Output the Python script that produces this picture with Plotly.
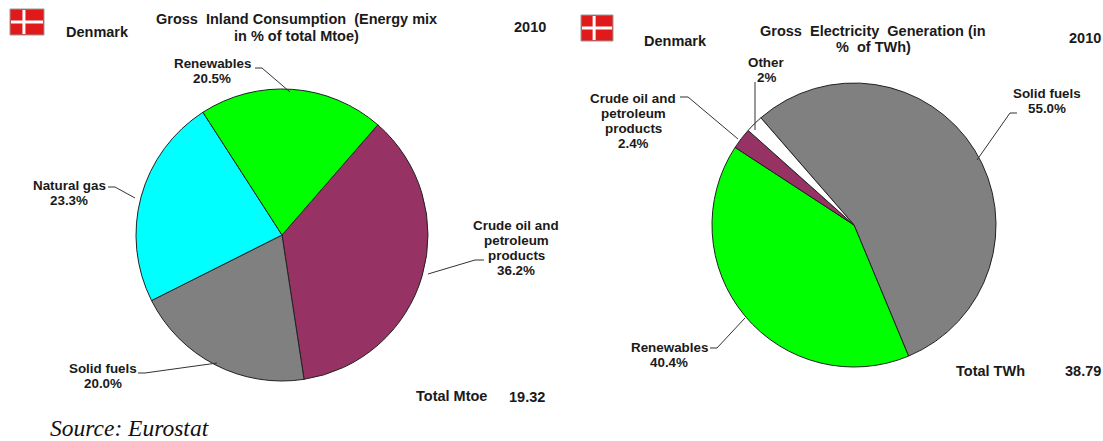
import plotly.graph_objects as go

W, H = 1103, 441

left_labels = ["Crude oil and petroleum products", "Solid fuels", "Natural gas", "Renewables"]
left_values = [36.2, 20.0, 23.3, 20.5]
left_colors = ["#963264", "#808080", "#00FFFF", "#00FF00"]

right_labels = ["Solid fuels", "Renewables", "Crude oil and petroleum products", "Other"]
right_values = [55.0, 40.4, 2.4, 2.0]
right_colors = ["#808080", "#00FF00", "#963264", "#FFFFFF"]


def px(x):
    return x / W


def py(y):
    return 1 - y / H


def dom(cx, cy, r):
    return dict(x=[px(cx - r), px(cx + r)], y=[py(cy + r), py(cy - r)])


def pie(labels, values, colors, rotation, domain):
    return go.Pie(labels=labels, values=values, sort=False, direction="clockwise",
                  rotation=rotation, domain=domain, textinfo="none", hoverinfo="label+percent",
                  showlegend=False,
                  marker=dict(colors=colors, line=dict(color="#222222", width=1)))


fig = go.Figure()
fig.add_trace(pie(left_labels, left_values, left_colors, 41, dom(282, 235, 146)))
fig.add_trace(pie(right_labels, right_values, right_colors, 319, dom(854, 225, 142)))

BOLD = dict(family="Liberation Sans", size=13.4, color="#1a1a1a")
HEAD = dict(family="Liberation Sans", size=14.5, color="#1a1a1a")
annotations = []


def text(x, y, lines, font=BOLD, step=15):
    """Centre a block of bold lines on (x, y), one annotation per line for tight leading."""
    top = y - step * (len(lines) - 1) / 2
    for i, s in enumerate(lines):
        annotations.append(dict(x=px(x), y=py(top + i * step), xref="paper", yref="paper",
                                text=f"<b>{s}</b>", showarrow=False, font=font,
                                xanchor="center", yanchor="middle", borderpad=0, borderwidth=0))


text(97, 32, ["Denmark"], font=HEAD)
text(296, 27, ["Gross&nbsp;&nbsp;Inland Consumption&nbsp;&nbsp;(Energy mix", "in % of total Mtoe)"], font=HEAD, step=17)
text(530, 27, ["2010"], font=HEAD)
text(212, 71, ["Renewables", "20.5%"])
text(69, 193, ["Natural gas", "23.3%"])
text(516, 248, ["Crude oil and", "petroleum", "products", "36.2%"])
text(103, 376, ["Solid fuels", "20.0%"])
text(451, 396, ["Total Mtoe"], font=HEAD)
text(527, 397, ["19.32"], font=HEAD)
annotations.append(dict(x=px(48), y=py(428), xref="paper", yref="paper", text="<i>Source: Eurostat</i>",
                        showarrow=False, xanchor="left", yanchor="middle",
                        font=dict(family="Liberation Serif", size=23.5, color="#111111")))

text(675, 41, ["Denmark"], font=HEAD)
text(873, 39, ["Gross&nbsp;&nbsp;Electricity&nbsp;&nbsp;Generation (in", "%&nbsp;&nbsp;of TWh)"], font=HEAD, step=16)
text(1085, 38, ["2010"], font=HEAD)
text(766, 70, ["Other", "2%"])
text(633, 121, ["Crude oil and", "petroleum", "products", "2.4%"])
text(1047, 101, ["Solid fuels", "55.0%"])
text(669, 355, ["Renewables", "40.4%"])
text(990, 371, ["Total TWh"], font=HEAD)
text(1083, 371, ["38.79"], font=HEAD)

shapes = []


def path(points):
    d = "M " + " L ".join(f"{px(x):.5f},{py(y):.5f}" for x, y in points)
    shapes.append(dict(type="path", path=d, xref="paper", yref="paper",
                       line=dict(color="#333333", width=1)))


path([(255, 68), (262, 68), (290, 92)])
path([(108, 187), (115, 187), (135, 198)])
path([(428, 274), (475, 260), (484, 260)])
path([(138, 373), (145, 373), (217, 363)])
path([(680, 97), (688, 97), (738, 139)])
path([(755, 82), (755, 130)])
path([(1017, 113), (1010, 113), (977, 160)])
path([(710, 348), (717, 348), (745, 318)])


def flag(x0, y0, x1, y1):
    def rect(a, b, c, d, color, line=None):
        shapes.append(dict(type="rect", xref="paper", yref="paper", x0=px(a), x1=px(c), y0=py(b), y1=py(d),
                           fillcolor=color, line=line or dict(width=0)))
    rect(x0, y0, x1, y1, "#E01A1A", dict(color="#999999", width=1))
    h = (y0 + y1) / 2
    v = x0 + (x1 - x0) * 0.41
    rect(x0 + 1, h - 1.5, x1 - 1, h + 1.5, "#FFFFFF")
    rect(v - 1.5, y0 + 1, v + 1.5, y1 - 1, "#FFFFFF")


flag(10, 9, 44, 35)
flag(581, 15, 613, 41)

fig.update_layout(width=W, height=H, margin=dict(l=0, r=0, t=0, b=0), paper_bgcolor="white",
                  plot_bgcolor="white", annotations=annotations, shapes=shapes)
fig.write_html("out.html", config=dict(displayModeBar=False),
               post_script="document.body.style.margin='0';document.body.style.overflow='hidden';")
